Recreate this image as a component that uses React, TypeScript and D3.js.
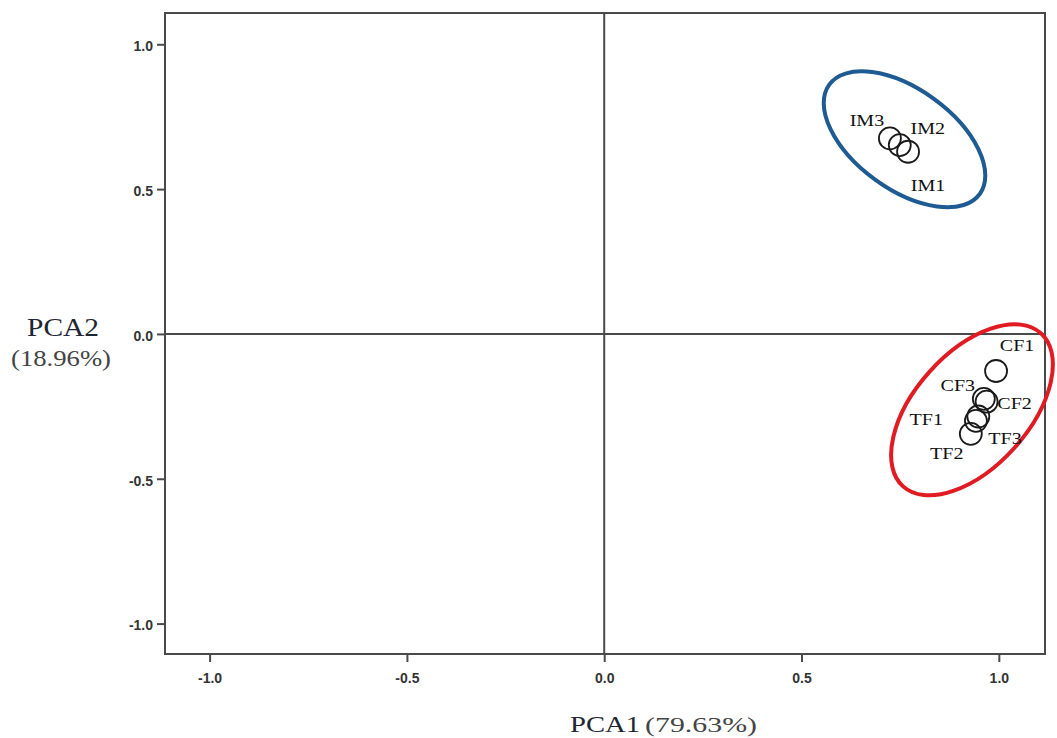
import React, { useRef, useEffect } from "react";
import * as d3 from "d3";

// PCA score plot data
const samples = ["IM1", "IM2", "IM3", "CF1", "CF2", "CF3", "TF1", "TF2", "TF3"];
const pca1 = [0.77, 0.749, 0.724, 0.993, 0.969, 0.962, 0.948, 0.929, 0.942];
const pca2 = [0.629, 0.652, 0.675, -0.128, -0.234, -0.224, -0.285, -0.345, -0.3];

const xTicks = [-1.0, -0.5, 0.0, 0.5, 1.0];
const yTicks = [1.0, 0.5, 0.0, -0.5, -1.0];

// group ellipses: centre in PCA units
const groups = ["IM", "CF/TF"];
const groupCx = [0.761, 0.932];
const groupCy = [0.672, -0.262];
const groupColor = ["#1f5b93", "#e01b22"];

// label offsets (px) relative to each marker
const labelDx = [20, 28, -23, 21, 28, -26, -52, -24, 29];
const labelDy = [33, -17, -18, -26, 1, -14, 3, 19, 17];

const PCAChart = ({ width = 1057, height = 738 }) => {
  const ref = useRef<SVGSVGElement>(null);

  useEffect(() => {
    const container = ref.current;
    if (!container) return;
    d3.select(container).selectChildren().remove();

    const svg = d3.select(container);
    const margin = { top: 13, right: 12, bottom: 84, left: 165 };
    const right = width - margin.right;
    const bottom = height - margin.bottom;

    const x = d3.scaleLinear().domain([-1.113, 1.117]).range([margin.left, right]);
    const y = d3.scaleLinear().domain([-1.105, 1.108]).range([bottom, margin.top]);

    const lineColor = "#4a4a4a";
    const fmt = (d) => d.toFixed(1);

    // frame
    svg
      .append("rect")
      .attr("x", margin.left)
      .attr("y", margin.top)
      .attr("width", right - margin.left)
      .attr("height", bottom - margin.top)
      .attr("fill", "none")
      .attr("stroke", lineColor)
      .attr("stroke-width", 2);

    // zero lines
    svg
      .append("line")
      .attr("x1", x(0))
      .attr("x2", x(0))
      .attr("y1", margin.top)
      .attr("y2", bottom)
      .attr("stroke", lineColor)
      .attr("stroke-width", 2);
    svg
      .append("line")
      .attr("x1", margin.left)
      .attr("x2", right)
      .attr("y1", y(0))
      .attr("y2", y(0))
      .attr("stroke", lineColor)
      .attr("stroke-width", 2);

    // X axis
    const xAxis = svg
      .append("g")
      .attr("transform", `translate(0, ${bottom})`)
      .call(d3.axisBottom(x).tickValues(xTicks).tickSize(8).tickPadding(11).tickFormat(fmt));
    xAxis.select(".domain").remove();

    // Y axis
    const yAxis = svg
      .append("g")
      .attr("transform", `translate(${margin.left}, 0)`)
      .call(d3.axisLeft(y).tickValues(yTicks).tickSize(8).tickPadding(4).tickFormat(fmt));
    yAxis.select(".domain").remove();

    [xAxis, yAxis].forEach((g) => {
      g.selectAll(".tick line").attr("stroke", lineColor).attr("stroke-width", 2);
      g.selectAll(".tick text")
        .attr("fill", "#333")
        .style("font-family", "'Liberation Sans', Arial, sans-serif")
        .style("font-size", "14px")
        .style("font-weight", "bold");
    });
    yAxis.selectAll(".tick text").attr("dy", "0.45em");

    // group ellipses
    const ellipseR = [
      [93, 50, 36],
      [103, 57, -48],
    ];
    groups.forEach((_, i) => {
      const [rx, ry, ang] = ellipseR[i];
      svg
        .append("ellipse")
        .attr("transform", `translate(${x(groupCx[i])}, ${y(groupCy[i])}) rotate(${ang})`)
        .attr("rx", rx)
        .attr("ry", ry)
        .attr("fill", "none")
        .attr("stroke", groupColor[i])
        .attr("stroke-width", 4);
    });

    // points
    const pts = samples.map((s, i) => ({ s, x: pca1[i], y: pca2[i], dx: labelDx[i], dy: labelDy[i] }));

    svg
      .append("g")
      .selectAll("circle")
      .data(pts)
      .enter()
      .append("circle")
      .attr("cx", (d) => x(d.x))
      .attr("cy", (d) => y(d.y))
      .attr("r", 11)
      .attr("fill", "none")
      .attr("stroke", "#1a1a1a")
      .attr("stroke-width", 1.8);

    svg
      .append("g")
      .selectAll("text")
      .data(pts)
      .enter()
      .append("text")
      .attr("transform", (d) => `translate(${x(d.x) + d.dx}, ${y(d.y) + d.dy}) scale(1.18, 1)`)
      .attr("text-anchor", "middle")
      .attr("dominant-baseline", "central")
      .style("font-family", "'Liberation Serif', 'Times New Roman', serif")
      .style("font-size", "17px")
      .attr("fill", "#111")
      .text((d) => d.s);

    // axis titles
    const serif = "'Liberation Serif', 'Times New Roman', serif";
    svg
      .append("text")
      .attr("x", 63)
      .attr("y", 336)
      .attr("text-anchor", "middle")
      .style("font-family", serif)
      .style("font-size", "26px")
      .attr("fill", "#1e2633")
      .attr("textLength", 72)
      .attr("lengthAdjust", "spacingAndGlyphs")
      .text("PCA2");
    svg
      .append("text")
      .attr("x", 61)
      .attr("y", 366)
      .attr("text-anchor", "middle")
      .style("font-family", serif)
      .style("font-size", "24px")
      .attr("fill", "#444")
      .attr("textLength", 100)
      .attr("lengthAdjust", "spacingAndGlyphs")
      .text("(18.96%)");

    svg
      .append("text")
      .attr("x", 570)
      .attr("y", 732)
      .style("font-family", serif)
      .style("font-size", "24px")
      .attr("fill", "#1e2633")
      .attr("textLength", 70)
      .attr("lengthAdjust", "spacingAndGlyphs")
      .text("PCA1");
    svg
      .append("text")
      .attr("x", 645)
      .attr("y", 732)
      .style("font-family", serif)
      .style("font-size", "22px")
      .attr("fill", "#444")
      .attr("textLength", 112)
      .attr("lengthAdjust", "spacingAndGlyphs")
      .text("(79.63%)");
  }, [width, height]);

  return (
    <svg
      ref={ref}
      width={width}
      height={height}
      style={{ position: "absolute", left: 0, top: 0, background: "#fff" }}
    />
  );
};

export default function App() {
  return <PCAChart />;
}
